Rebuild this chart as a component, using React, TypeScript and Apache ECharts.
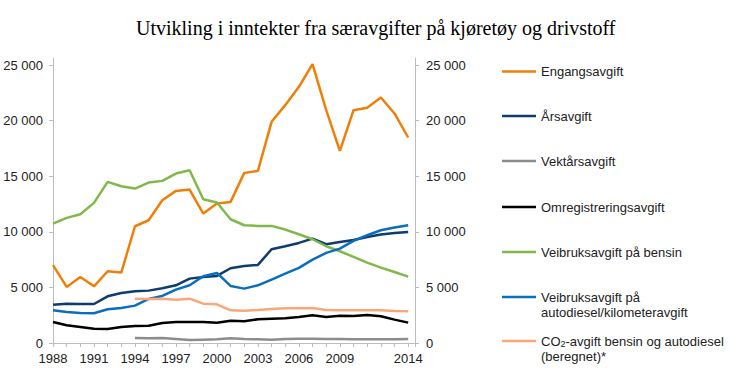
import React, { useEffect, useRef } from "react";
import * as echarts from "echarts";

const years = [1988, 1989, 1990, 1991, 1992, 1993, 1994, 1995, 1996, 1997, 1998, 1999, 2000, 2001, 2002, 2003, 2004, 2005, 2006, 2007, 2008, 2009, 2010, 2011, 2012, 2013, 2014];
const xTickLabels = [1988, 1991, 1994, 1997, 2000, 2003, 2006, 2009, 2014];
const yTickValues = [0, 5000, 10000, 15000, 20000, 25000];

const engangsavgift = [7000, 5040, 5940, 5100, 6450, 6330, 10500, 11040, 12840, 13680, 13800, 11640, 12540, 12690, 15300, 15480, 19890, 21390, 23040, 25080, 20940, 17280, 20940, 21150, 22080, 20640, 18480];
const arsavgift = [3450, 3540, 3510, 3510, 4200, 4500, 4650, 4710, 4920, 5190, 5790, 5940, 6030, 6720, 6930, 7020, 8430, 8700, 9000, 9390, 8880, 9090, 9270, 9540, 9750, 9900, 9990];
const vektarsavgift = [null, null, null, null, null, null, 450, 420, 450, 360, 270, 300, 330, 420, 360, 330, 300, 360, 390, 390, 360, 360, 330, 330, 330, 330, 360];
const omregistrering = [1890, 1590, 1440, 1290, 1260, 1440, 1530, 1560, 1800, 1890, 1890, 1890, 1830, 2010, 1950, 2130, 2190, 2220, 2340, 2490, 2340, 2460, 2430, 2520, 2400, 2100, 1830];
const veibrukBensin = [10740, 11250, 11580, 12600, 14490, 14100, 13890, 14430, 14580, 15240, 15540, 12930, 12630, 11130, 10590, 10530, 10530, 10200, 9780, 9330, 8700, 8250, 7740, 7230, 6780, 6390, 5970];
const veibrukDiesel = [2940, 2790, 2700, 2670, 3030, 3150, 3360, 3960, 4230, 4800, 5190, 6000, 6300, 5130, 4890, 5190, 5700, 6240, 6750, 7500, 8100, 8490, 9180, 9690, 10140, 10380, 10590];
const co2Avgift = [null, null, null, null, null, null, 3990, 3960, 3990, 3900, 3990, 3540, 3480, 2940, 2910, 2970, 3060, 3120, 3120, 3150, 2970, 2940, 2940, 2940, 2940, 2880, 2850];

const seriesNames = [
  "Engangsavgift",
  "Årsavgift",
  "Vektårsavgift",
  "Omregistreringsavgift",
  "Veibruksavgift på bensin",
  "Veibruksavgift på autodiesel/kilometeravgift",
  "CO2-avgift bensin og autodiesel (beregnet)*",
];
const seriesValues = [engangsavgift, arsavgift, vektarsavgift, omregistrering, veibrukBensin, veibrukDiesel, co2Avgift];
const seriesColors = ["#F07F09", "#0F3C6E", "#8C8C8C", "#000000", "#80B84A", "#0A6EBE", "#F9A77A"];
const legendTops = [64, 108.5, 153.5, 199.5, 244.5, 274.5, 318.5];

const FONT = "'Liberation Sans', Arial, sans-serif";
const AXIS_GRAY = "#BDBDBD";
const TEXT = "#222222";

function fmtThousands(v: number) {
  const s = String(Math.round(v));
  return s.replace(/\B(?=(\d{3})+(?!\d))/g, " ");
}

function legendLabel(name: string) {
  if (name === seriesNames[5]) return " \nVeibruksavgift på\nautodiesel/kilometeravgift";
  if (name === seriesNames[6]) return " \nCO{sub|2}-avgift bensin og autodiesel\n(beregnet)*";
  return name;
}

export default function App() {
  const ref = useRef<HTMLDivElement>(null);
  useEffect(() => {
    if (!ref.current) return;
    const chart = echarts.init(ref.current, undefined, { renderer: "svg" });
    const yAxisCommon = {
      type: "value",
      min: 0,
      max: 25630,
      splitLine: { show: false },
      axisLine: { show: true, lineStyle: { color: AXIS_GRAY, width: 1 } },
      axisTick: { show: true, length: 4, customValues: yTickValues, lineStyle: { color: AXIS_GRAY } },
      axisLabel: { customValues: yTickValues, formatter: (v: number) => fmtThousands(v), fontSize: 13, fontFamily: FONT, color: TEXT },
    };
    const option: any = {
      animation: false,
      backgroundColor: "#ffffff",
      title: {
        text: "Utvikling i inntekter fra særavgifter på kjøretøy og drivstoff",
        left: 131,
        top: 13,
        textStyle: { fontFamily: "'Liberation Serif', 'Times New Roman', serif", fontSize: 20, fontWeight: "normal", color: "#000" },
      },
      grid: { left: 53, right: 315, top: 58, bottom: 40, containLabel: false },
      xAxis: {
        type: "value",
        min: 1988,
        max: 2014.5,
        interval: 1,
        splitLine: { show: false },
        axisLine: { show: true, onZero: false, lineStyle: { color: AXIS_GRAY } },
        axisTick: { show: true, length: 4, lineStyle: { color: AXIS_GRAY } },
        axisLabel: {
          margin: 9,
          fontSize: 13,
          fontFamily: FONT,
          color: TEXT,
          showMinLabel: true,
          showMaxLabel: true,
          formatter: (v: number) => (xTickLabels.indexOf(v) >= 0 ? String(v) : ""),
        },
      },
      yAxis: [
        { ...yAxisCommon, position: "left", axisLabel: { ...yAxisCommon.axisLabel, margin: 10 } },
        { ...yAxisCommon, position: "right", axisLabel: { ...yAxisCommon.axisLabel, margin: 11 } },
      ],
      legend: seriesNames.map((name, i) => ({
        data: [{ name, icon: "rect" }],
        orient: "vertical",
        left: 502,
        top: legendTops[i],
        padding: 0,
        itemGap: 0,
        itemWidth: 34,
        itemHeight: 2.5,
        selectedMode: false,
        formatter: legendLabel,
        textStyle: {
          fontSize: 13,
          lineHeight: 15,
          fontFamily: FONT,
          color: TEXT,
          rich: {
            sub: { fontSize: 9, lineHeight: 10, verticalAlign: "bottom", padding: [5, 0, 0, 0], fontFamily: FONT, color: TEXT },
          },
        },
      })),
      series: seriesNames.map((name, i) => ({
        name,
        type: "line",
        yAxisIndex: 0,
        symbol: "none",
        showSymbol: false,
        color: seriesColors[i],
        lineStyle: { width: 2.5, color: seriesColors[i] },
        data: years
          .map((y, j) => [y, seriesValues[i][j]])
          .filter((p) => p[1] !== null),
      })),
    };
    chart.setOption(option);
    return () => chart.dispose();
  }, []);
  return <div ref={ref} style={{ position: "fixed", left: 0, top: 0, width: 730, height: 383 }} />;
}
